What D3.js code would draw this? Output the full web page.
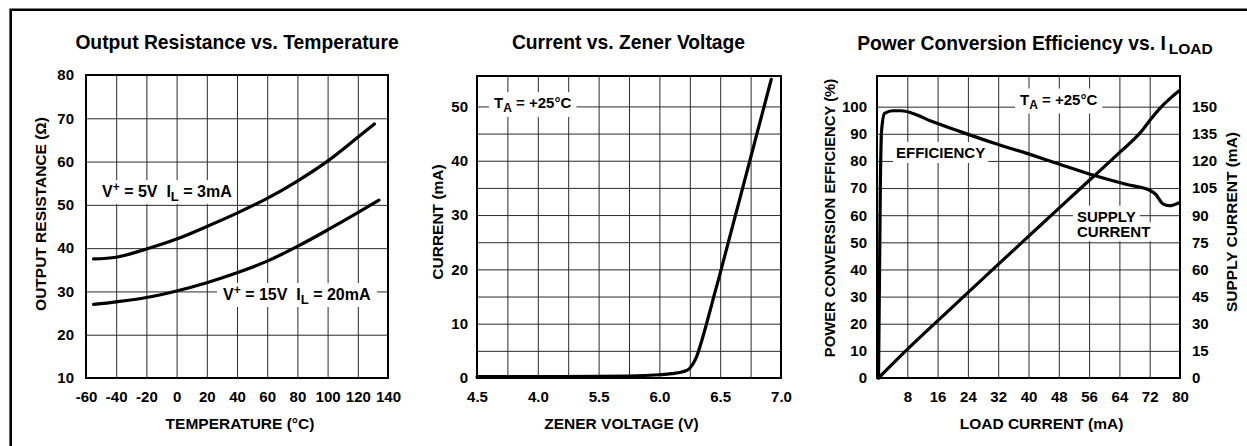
<!DOCTYPE html>
<html>
<head>
<meta charset="utf-8">
<script src="https://cdn.jsdelivr.net/npm/d3@7"></script>
<style>
  body { margin: 0; background: #fff; }
  svg { display: block; font-family: "Liberation Sans", Arial, Helvetica, sans-serif; font-weight: bold; }
</style>
</head>
<body>
<div class="d3Chart"></div>
<script>
//#region data

// output resistance vs temperature
var tempLow = [-55, -40, -20, 0, 20, 40, 60, 80, 100, 120, 131];
var res5V = [37.5, 37.9, 39.8, 42.1, 45.0, 48.1, 51.5, 55.5, 60.1, 65.6, 68.7];
var tempHigh = [-55, -40, -20, 0, 20, 40, 60, 80, 100, 120, 134];
var res15V = [27.0, 27.6, 28.6, 30.1, 32.0, 34.3, 37.0, 40.4, 44.2, 48.2, 51.1];
var tempTicks = [-60, -40, -20, 0, 20, 40, 60, 80, 100, 120, 140];
var resTicks = [10, 20, 30, 40, 50, 60, 70, 80];

// current vs zener voltage
var zenerV = [4.5, 5.0, 5.5, 5.75, 6.0, 6.1, 6.2, 6.25, 6.3, 6.35, 6.4, 6.45, 6.5, 6.6, 6.7, 6.8, 6.92];
var zenerI = [0.25, 0.25, 0.3, 0.35, 0.6, 0.8, 1.2, 1.8, 3.6, 7.0, 11.0, 15.2, 19.3, 27.8, 36.3, 44.8, 55.0];
var voltGrid = [4.75, 5.0, 5.25, 5.5, 5.75, 6.0, 6.25, 6.5, 6.75];
var voltTicks = [4.5, 5.0, 5.5, 6.0, 6.5, 7.0];
var voltLabels = ["4.5", "4.0", "5.5", "6.0", "6.5", "7.0"];
var currGrid = [5, 10, 15, 20, 25, 30, 35, 40, 45, 50];
var currTicks = [0, 10, 20, 30, 40, 50];

// power conversion efficiency vs load current
var loadEff = [0.4, 0.9, 1.2, 2.0, 4.2, 6.4, 9.5, 14.4, 22, 31, 40, 48, 57, 66, 72, 73.5, 75.5, 77.2, 79.8];
var effPct = [0, 73, 91, 97.5, 98.5, 98.5, 97.5, 94.6, 90.8, 86.5, 82.6, 78.9, 74.8, 71.3, 69.2, 67.8, 64.2, 63.5, 64.6];
var loadSup = [0.4, 8, 16, 24, 32, 40, 48, 56, 64, 70, 72, 74.7, 77.4, 79.8];
var supplyMa = [0, 15.8, 31.6, 47.2, 62.8, 78.3, 93.8, 109.2, 124.6, 136.8, 142.4, 149.1, 154.6, 158.8];
var loadGrid = [8, 16, 24, 32, 40, 48, 56, 64, 72];
var loadTicks = [8, 16, 24, 32, 40, 48, 56, 64, 72, 80];
var effTicks = [0, 10, 20, 30, 40, 50, 60, 70, 80, 90, 100];
var supTicks = [0, 15, 30, 45, 60, 75, 90, 105, 120, 135, 150];

//#endregion

//#region canvas

var width = 1247;
var height = 446;
var font = '"Liberation Sans", Arial, Helvetica, sans-serif';
var nb = "\u00A0";

var svg = d3
  .select(".d3Chart")
  .append("svg")
  .attr("width", width)
  .attr("height", height);

// outer frame: only top and left edges are visible
svg
  .append("path")
  .attr("d", "M10.7,446 V9.7 H1247")
  .attr("fill", "none")
  .attr("stroke", "#000")
  .attr("stroke-width", 2.6);

//#endregion

//#region helpers

function panel(x, y) {
  return svg.append("g").attr("transform", `translate(${x},${y})`);
}

// grid lines drawn through axes with inner ticks spanning the plot
function grid(g, xs, ys, xVals, yVals, w, h) {
  g.append("g")
    .attr("transform", `translate(0,${h})`)
    .call(d3.axisBottom(xs).tickValues(xVals).tickSize(-h).tickFormat(""))
    .call((a) => a.select(".domain").remove())
    .selectAll("line")
    .attr("stroke", "#2a2a2a")
    .attr("stroke-width", 1);
  g.append("g")
    .call(d3.axisLeft(ys).tickValues(yVals).tickSize(-w).tickFormat(""))
    .call((a) => a.select(".domain").remove())
    .selectAll("line")
    .attr("stroke", "#2a2a2a")
    .attr("stroke-width", 1);
}

function styleAxis(a) {
  a.select(".domain").remove();
  a.attr("font-size", 15).attr("font-family", font).attr("font-weight", "bold");
  a.selectAll("text").attr("fill", "#000");
}

function frame(g, w, h) {
  g.append("rect")
    .attr("width", w)
    .attr("height", h)
    .attr("fill", "none")
    .attr("stroke", "#000")
    .attr("stroke-width", 2);
}

// text made of tspans, with a white box behind so grid lines break around it
function label(g, x, y, parts, pad, size) {
  var t = g.append("text").attr("x", x).attr("y", y).attr("font-size", size || 15);
  parts.forEach((p) => {
    var s = t.append("tspan").text(p.t);
    if (p.size) s.attr("font-size", p.size);
    if (p.dy) s.attr("dy", p.dy);
    if (p.dx) s.attr("dx", p.dx);
  });
  var b = t.node().getBBox();
  g.insert("rect", function () {
    return t.node();
  })
    .attr("x", b.x - pad[0])
    .attr("y", b.y - pad[1])
    .attr("width", b.width + 2 * pad[0])
    .attr("height", b.height + 2 * pad[1])
    .attr("fill", "#fff");
  return t;
}

function curve(g, xs, ys, xv, yv) {
  var pts = xv.map((d, i) => [xs(d), ys(yv[i])]);
  g.append("path")
    .attr("d", d3.line().curve(d3.curveMonotoneX)(pts))
    .attr("fill", "none")
    .attr("stroke", "#000")
    .attr("stroke-width", 3.2)
    .attr("stroke-linejoin", "round")
    .attr("stroke-linecap", "round");
}

function title(x, y, txt) {
  return svg
    .append("text")
    .attr("x", x)
    .attr("y", y)
    .attr("text-anchor", "middle")
    .attr("font-size", 19.3)
    .text(txt);
}

function axisTitle(x, y, txt, rotate) {
  return svg
    .append("text")
    .attr("transform", `translate(${x},${y})` + (rotate ? " rotate(-90)" : ""))
    .attr("text-anchor", "middle")
    .attr("font-size", 15.5)
    .text(txt);
}

//#endregion

//#region panel 1: output resistance

var w1 = 302, h1 = 303;
var g1 = panel(86, 75);
var x1 = d3.scaleLinear().domain([-60, 140]).range([0, w1]);
var y1 = d3.scaleLinear().domain([10, 80]).range([h1, 0]);

grid(g1, x1, y1, tempTicks.slice(1, -1), resTicks.slice(1, -1), w1, h1);

g1.append("g")
  .attr("transform", `translate(0,${h1})`)
  .call(d3.axisBottom(x1).tickValues(tempTicks).tickSize(0).tickPadding(13).tickFormat((d) => String(d)))
  .call(styleAxis);
g1.append("g")
  .call(d3.axisLeft(y1).tickValues(resTicks).tickSize(0).tickPadding(12))
  .call(styleAxis);

label(g1, 16, 122, [
  { t: "V" },
  { t: "+", size: 12, dy: -6 },
  { t: " = 5V" + nb + nb + "I", dy: 6 },
  { t: "L", size: 13, dy: 4 },
  { t: " = 3mA", dy: -4 },
], [3, 0], 16);
label(g1, 137, 225, [
  { t: "V" },
  { t: "+", size: 12, dy: -6 },
  { t: " = 15V" + nb + nb + "I", dy: 6 },
  { t: "L", size: 13, dy: 4 },
  { t: " = 20mA", dy: -4 },
], [6, 0], 16);

frame(g1, w1, h1);
curve(g1, x1, y1, tempLow, res5V);
curve(g1, x1, y1, tempHigh, res15V);

title(237, 49, "Output Resistance vs. Temperature");
axisTitle(240, 429, "TEMPERATURE (\u00B0C)");
axisTitle(45.5, 214, "OUTPUT RESISTANCE (\u03A9)", true);

//#endregion

//#region panel 2: zener

var w2 = 304, h2 = 302;
var g2 = panel(477, 76);
var x2 = d3.scaleLinear().domain([4.5, 7.0]).range([0, w2]);
var y2 = d3.scaleLinear().domain([0, 55.6]).range([h2, 0]);

grid(g2, x2, y2, voltGrid, currGrid, w2, h2);

g2.append("g")
  .attr("transform", `translate(0,${h2})`)
  .call(
    d3.axisBottom(x2).tickValues(voltTicks).tickSize(0).tickPadding(13)
      .tickFormat((d, i) => voltLabels[i])
  )
  .call(styleAxis);
g2.append("g")
  .call(d3.axisLeft(y2).tickValues(currTicks).tickSize(0).tickPadding(9))
  .call(styleAxis);

label(g2, 17, 32, [
  { t: "T" },
  { t: "A", size: 12, dy: 4 },
  { t: " = +25\u00B0C", dy: -4 },
], [5, 2]);

frame(g2, w2, h2);
curve(g2, x2, y2, zenerV, zenerI);

title(628.5, 49, "Current vs. Zener Voltage");
axisTitle(621.5, 429, "ZENER VOLTAGE (V)");
axisTitle(442.5, 222, "CURRENT (mA)", true);

//#endregion

//#region panel 3: efficiency

var w3 = 303, h3 = 302;
var g3 = panel(877, 76);
var x3 = d3.scaleLinear().domain([0, 80]).range([0, w3]);
var y3 = d3.scaleLinear().domain([0, 111.3]).range([h3, 0]);
var y3r = d3.scaleLinear().domain([0, 167]).range([h3, 0]);

grid(g3, x3, y3, loadGrid, effTicks.slice(1), w3, h3);

g3.append("g")
  .attr("transform", `translate(0,${h3})`)
  .call(d3.axisBottom(x3).tickValues(loadTicks).tickSize(0).tickPadding(13))
  .call(styleAxis);
g3.append("g")
  .call(d3.axisLeft(y3).tickValues(effTicks).tickSize(0).tickPadding(10))
  .call(styleAxis);
g3.append("g")
  .attr("transform", `translate(${w3},0)`)
  .call(d3.axisRight(y3r).tickValues(supTicks).tickSize(0).tickPadding(12))
  .call(styleAxis);

label(g3, 143, 28.5, [
  { t: "T" },
  { t: "A", size: 12, dy: 4 },
  { t: " = +25\u00B0C", dy: -4 },
], [5, 2]);
label(g3, 19, 82, [{ t: "EFFICIENCY" }], [3, 2]);
label(g3, 200, 145.7, [{ t: "SUPPLY" }], [4, 2]);
label(g3, 200, 161.3, [{ t: "CURRENT" }], [4, 1]);

frame(g3, w3, h3);
curve(g3, x3, y3, loadEff, effPct);
curve(g3, x3, y3r, loadSup, supplyMa);

var t3 = svg
  .append("text")
  .attr("x", 1035)
  .attr("y", 49.5)
  .attr("text-anchor", "middle")
  .attr("font-size", 19.3);
t3.append("tspan").text("Power Conversion Efficiency vs. I");
t3.append("tspan").attr("font-size", 15.5).attr("dx", 3).attr("dy", 4.5).text("LOAD");

axisTitle(1041.5, 429, "LOAD CURRENT (mA)");
axisTitle(834.5, 218, "POWER CONVERSION EFFICIENCY (%)", true).attr("font-size", 14.8);
axisTitle(1237, 222, "SUPPLY CURRENT (mA)", true);

//#endregion
</script>
</body>
</html>
